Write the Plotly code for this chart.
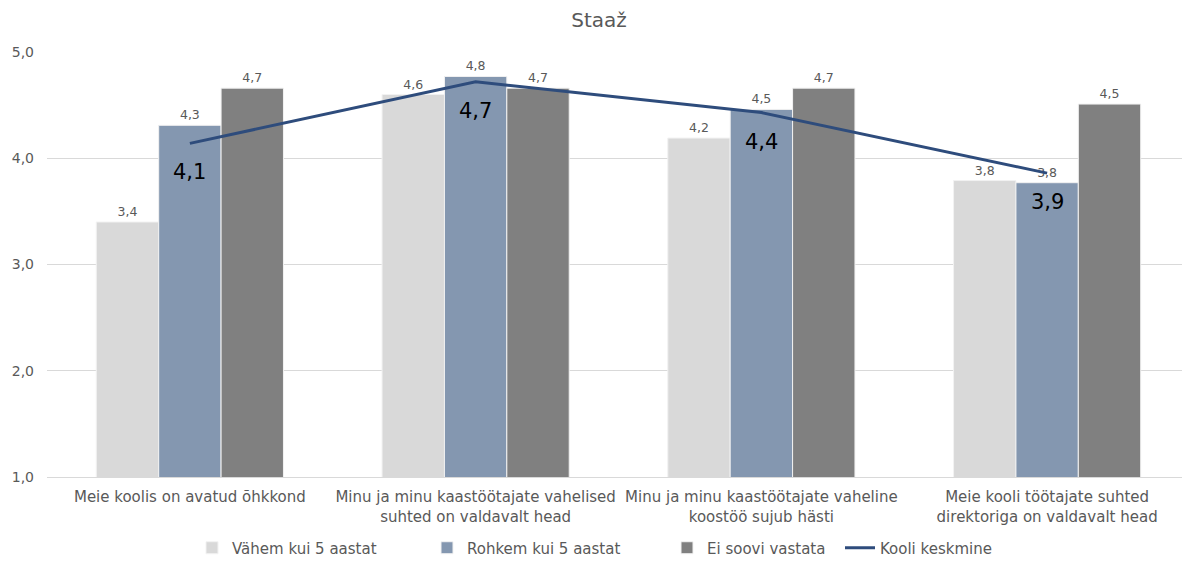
import plotly.graph_objects as go

categories = [
    "Meie koolis on avatud õhkkond",
    "Minu ja minu kaastöötajate vahelised<br>suhted on valdavalt head",
    "Minu ja minu kaastöötajate vaheline<br>koostöö sujub hästi",
    "Meie kooli töötajate suhted<br>direktoriga on valdavalt head",
]
vahem = [3.4, 4.6, 4.19, 3.79]
rohkem = [4.31, 4.77, 4.46, 3.77]
ei_soovi = [4.66, 4.66, 4.66, 4.51]
kooli_keskmine = [4.14, 4.72, 4.43, 3.86]

FONT = "DejaVu Sans"
fig = go.Figure()
series = [
    ("Vähem kui 5 aastat", vahem, "#D9D9D9", "legend"),
    ("Rohkem kui 5 aastat", rohkem, "#8497B0", "legend2"),
    ("Ei soovi vastata", ei_soovi, "#808080", "legend3"),
]
for name, vals, col, lg in series:
    fig.add_trace(go.Bar(
        x=categories, y=vals, name=name, legend=lg, showlegend=True,
        marker=dict(color=col, line=dict(color="#F2F2F2", width=1)),
        texttemplate="%{y:.1f}", textposition="outside",
        textfont=dict(size=12.5, color="#595959", family=FONT),
        cliponaxis=False,
    ))
fig.add_trace(go.Scatter(
    x=categories, y=kooli_keskmine, name="Kooli keskmine", legend="legend4",
    showlegend=True, mode="lines", line=dict(color="#2E4C7C", width=3),
))
for c, v in zip(categories, kooli_keskmine):
    fig.add_annotation(x=c, y=v, text=f"{v:.1f}".replace(".", ","),
                       showarrow=False, yshift=-29,
                       font=dict(size=21, color="#000000", family=FONT))

PLOT_L, PLOT_W = 47, 1143
OFFSET = 40
def leg(text_start):
    return dict(orientation="h", x=(text_start - PLOT_L - OFFSET) / PLOT_W,
                xanchor="left", y=-0.167, yanchor="middle",
                font=dict(size=15, color="#595959"), itemwidth=30,
                bgcolor="rgba(0,0,0,0)")

fig.update_layout(
    width=1182, height=553,
    showlegend=True,
    separators=",.",
    barmode="group", bargap=0.345, bargroupgap=0,
    plot_bgcolor="white", paper_bgcolor="white",
    font=dict(family=FONT, color="#595959", size=13),
    title=dict(text="Staaž", x=0.5, xanchor="center", y=0.978, yanchor="middle",
               font=dict(size=20, color="#595959", family=FONT)),
    margin=dict(l=39, r=0, t=44, b=84, autoexpand=False),
    xaxis=dict(showline=True, linecolor="#D9D9D9", linewidth=1, ticks="",
               automargin=False, ticklabelstandoff=6,
               tickfont=dict(size=15, color="#595959")),
    yaxis=dict(range=[1, 5], dtick=1, tickformat=".1f", showgrid=True,
               automargin=False, ticklabelstandoff=12,
               gridcolor="#D9D9D9", gridwidth=1, zeroline=False, ticks="",
               tickfont=dict(size=14, color="#595959")),
    legend=leg(232),
    legend2=leg(467),
    legend3=leg(707),
    legend4=leg(880),
)
fig.write_html("out.html")
